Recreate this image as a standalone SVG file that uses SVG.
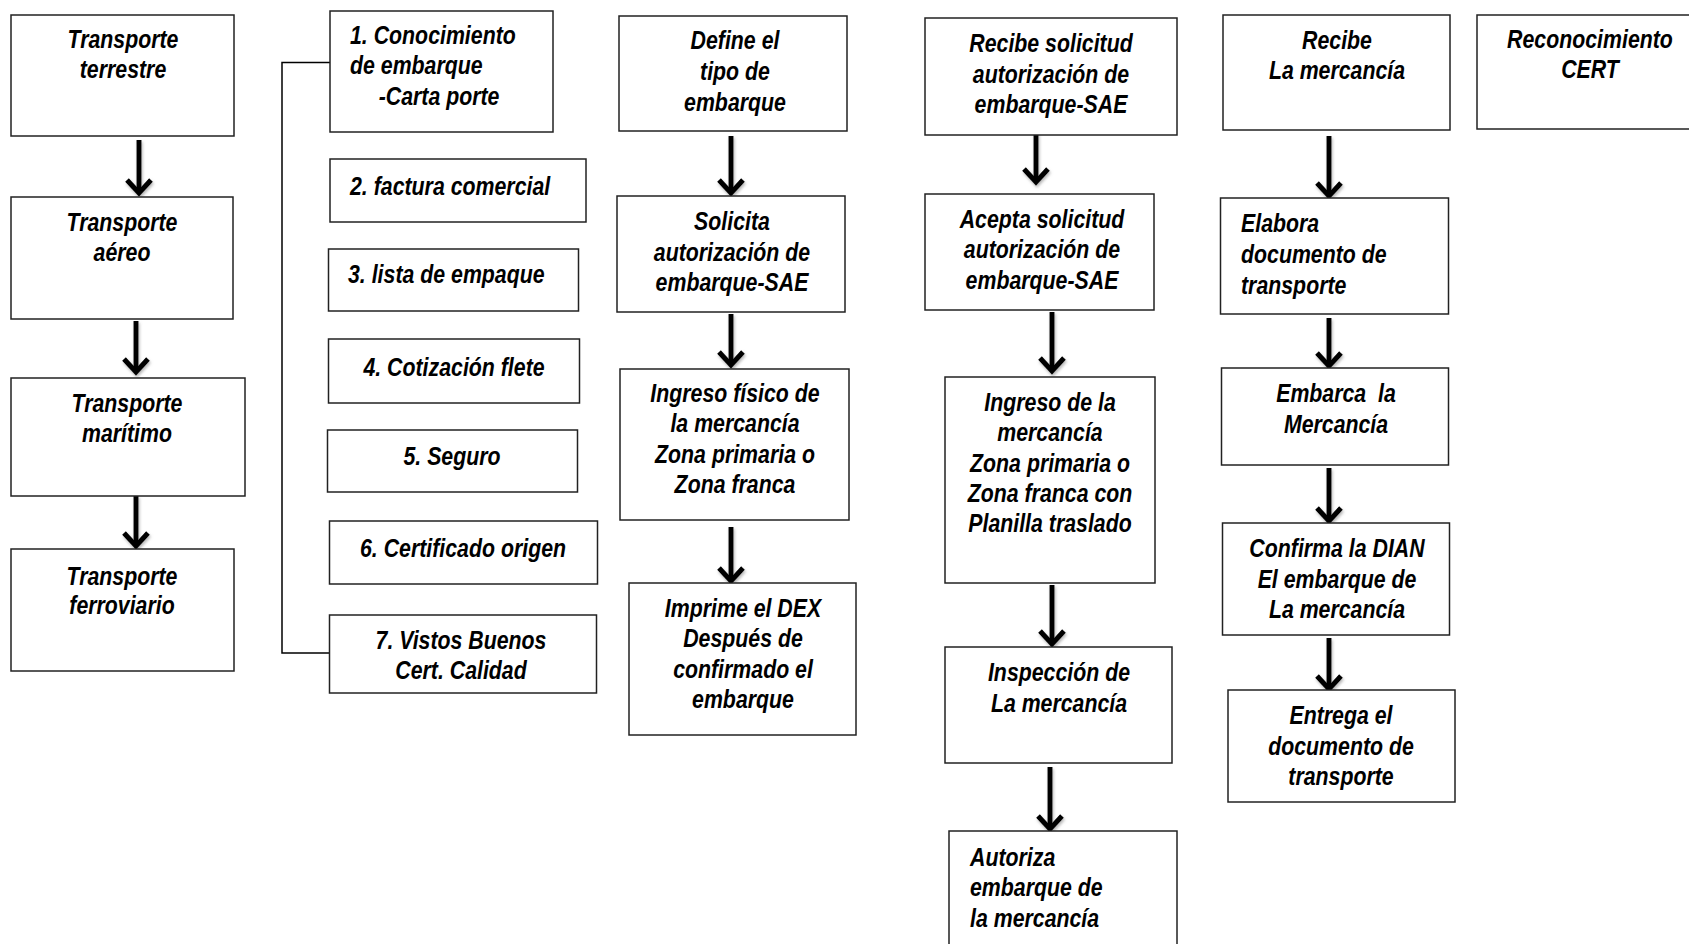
<svg xmlns="http://www.w3.org/2000/svg" width="1689" height="944" viewBox="0 0 1689 944">
<defs>
<style>
.box{fill:#fff;stroke:#222;stroke-width:1.5}
.t{font-family:"Liberation Sans",Arial,sans-serif;font-weight:bold;font-style:italic;font-size:26px;fill:#000}
.c{text-anchor:middle}
.arr{stroke:#000;stroke-width:5;fill:none;marker-end:url(#ah)}
.br{stroke:#000;stroke-width:1.5;fill:none}
</style>
<filter id="sh" filterUnits="userSpaceOnUse" x="0" y="0" width="1689" height="944">
<feDropShadow dx="1" dy="2" stdDeviation="1.5" flood-color="#777" flood-opacity="0.55"/>
</filter>
<marker id="ah" markerUnits="userSpaceOnUse" viewBox="-18 -16 22 32" refX="0" refY="0" markerWidth="22" markerHeight="32" orient="auto">
<path d="M-13,-12 L0,0 L-13,12" fill="none" stroke="#000" stroke-width="5" stroke-linejoin="miter"/>
</marker>
</defs>
<rect width="1689" height="944" fill="#fff"/>

<g id="connectors">
<path class="br" d="M330,62.5 H282 V653 H330"/>
<g filter="url(#sh)">
<line class="arr" x1="139" y1="140" x2="139" y2="193"/>
<line class="arr" x1="136" y1="321" x2="136" y2="372"/>
<line class="arr" x1="136" y1="496" x2="136" y2="546"/>
<line class="arr" x1="731" y1="136" x2="731" y2="193"/>
<line class="arr" x1="731" y1="314" x2="731" y2="365"/>
<line class="arr" x1="731" y1="527" x2="731" y2="581"/>
<line class="arr" x1="1036" y1="133" x2="1036" y2="182"/>
<line class="arr" x1="1052" y1="312" x2="1052" y2="371"/>
<line class="arr" x1="1052" y1="585" x2="1052" y2="644"/>
<line class="arr" x1="1050" y1="767" x2="1050" y2="829"/>
<line class="arr" x1="1329" y1="136" x2="1329" y2="196"/>
<line class="arr" x1="1329" y1="318" x2="1329" y2="366"/>
<line class="arr" x1="1329" y1="468" x2="1329" y2="521"/>
<line class="arr" x1="1329" y1="638" x2="1329" y2="689"/>
</g>
</g>

<g id="n-terrestre"><rect class="box" x="11" y="15" width="223" height="121"/>
<g class="t c" transform="translate(123,0) scale(0.82,1)"><text x="0" y="48">Transporte</text><text x="0" y="78">terrestre</text></g></g>
<g id="n-aereo"><rect class="box" x="11" y="197" width="222" height="122"/>
<g class="t c" transform="translate(122,0) scale(0.82,1)"><text x="0" y="231">Transporte</text><text x="0" y="261">aéreo</text></g></g>
<g id="n-maritimo"><rect class="box" x="11" y="378" width="234" height="118"/>
<g class="t c" transform="translate(127,0) scale(0.82,1)"><text x="0" y="412">Transporte</text><text x="0" y="442">marítimo</text></g></g>
<g id="n-ferroviario"><rect class="box" x="11" y="549" width="223" height="122"/>
<g class="t c" transform="translate(122,0) scale(0.82,1)"><text x="0" y="585">Transporte</text><text x="0" y="614">ferroviario</text></g></g>

<g id="d1"><rect class="box" x="330" y="11" width="223" height="121"/>
<g class="t" transform="translate(350,0) scale(0.82,1)"><text x="0" y="44">1. Conocimiento</text><text x="0" y="74">de embarque</text><text x="35" y="105">-Carta porte</text></g></g>
<g id="d2"><rect class="box" x="330" y="159" width="256" height="63"/>
<g class="t" transform="translate(350,0) scale(0.82,1)"><text x="0" y="195">2. factura comercial</text></g></g>
<g id="d3"><rect class="box" x="328.5" y="249" width="250" height="62"/>
<g class="t" transform="translate(348,0) scale(0.82,1)"><text x="0" y="283">3. lista de empaque</text></g></g>
<g id="d4"><rect class="box" x="328.5" y="339" width="251" height="64"/>
<g class="t c" transform="translate(454,0) scale(0.82,1)"><text x="0" y="376">4. Cotización flete</text></g></g>
<g id="d5"><rect class="box" x="327.5" y="430" width="250" height="62"/>
<g class="t c" transform="translate(452,0) scale(0.82,1)"><text x="0" y="465">5. Seguro</text></g></g>
<g id="d6"><rect class="box" x="329.5" y="521" width="268" height="63"/>
<g class="t c" transform="translate(463,0) scale(0.82,1)"><text x="0" y="557">6. Certificado origen</text></g></g>
<g id="d7"><rect class="box" x="329.5" y="615" width="267" height="78"/>
<g class="t c" transform="translate(461,0) scale(0.82,1)"><text x="0" y="649">7. Vistos Buenos</text><text x="0" y="679">Cert. Calidad</text></g></g>

<g id="c3-1"><rect class="box" x="619" y="16" width="228" height="115"/>
<g class="t c" transform="translate(735,0) scale(0.82,1)"><text x="0" y="49">Define el</text><text x="0" y="80">tipo de</text><text x="0" y="111">embarque</text></g></g>
<g id="c3-2"><rect class="box" x="617" y="196" width="228" height="116"/>
<g class="t c" transform="translate(732,0) scale(0.82,1)"><text x="0" y="230">Solicita</text><text x="0" y="261">autorización de</text><text x="0" y="291">embarque-SAE</text></g></g>
<g id="c3-3"><rect class="box" x="620" y="369" width="229" height="151"/>
<g class="t c" transform="translate(735,0) scale(0.82,1)"><text x="0" y="402">Ingreso físico de</text><text x="0" y="432">la mercancía</text><text x="0" y="463">Zona primaria o</text><text x="0" y="493">Zona franca</text></g></g>
<g id="c3-4"><rect class="box" x="629" y="583" width="227" height="152"/>
<g class="t c" transform="translate(743,0) scale(0.82,1)"><text x="0" y="617">Imprime el DEX</text><text x="0" y="647">Después de</text><text x="0" y="678">confirmado el</text><text x="0" y="708">embarque</text></g></g>

<g id="c4-1"><rect class="box" x="925" y="18" width="252" height="117"/>
<g class="t c" transform="translate(1051,0) scale(0.82,1)"><text x="0" y="52">Recibe solicitud</text><text x="0" y="83">autorización de</text><text x="0" y="113">embarque-SAE</text></g></g>
<g id="c4-2"><rect class="box" x="925" y="194" width="229" height="116"/>
<g class="t c" transform="translate(1042,0) scale(0.82,1)"><text x="0" y="228">Acepta solicitud</text><text x="0" y="258">autorización de</text><text x="0" y="289">embarque-SAE</text></g></g>
<g id="c4-3"><rect class="box" x="945" y="377" width="210" height="206"/>
<g class="t c" transform="translate(1050,0) scale(0.82,1)"><text x="0" y="411">Ingreso de la</text><text x="0" y="441">mercancía</text><text x="0" y="472">Zona primaria o</text><text x="0" y="502">Zona franca con</text><text x="0" y="532">Planilla traslado</text></g></g>
<g id="c4-4"><rect class="box" x="945" y="647" width="227" height="116"/>
<g class="t c" transform="translate(1059,0) scale(0.82,1)"><text x="0" y="681">Inspección de</text><text x="0" y="712">La mercancía</text></g></g>
<g id="c4-5"><rect class="box" x="949" y="831" width="228" height="125"/>
<g class="t" transform="translate(970,0) scale(0.82,1)"><text x="0" y="866">Autoriza</text><text x="0" y="896">embarque de</text><text x="0" y="927">la mercancía</text></g></g>

<g id="c5-1"><rect class="box" x="1223" y="15" width="227" height="115"/>
<g class="t c" transform="translate(1337,0) scale(0.82,1)"><text x="0" y="49">Recibe</text><text x="0" y="79">La mercancía</text></g></g>
<g id="c5-2"><rect class="box" x="1220.5" y="198" width="228" height="116"/>
<g class="t" transform="translate(1241,0) scale(0.82,1)"><text x="0" y="232">Elabora</text><text x="0" y="263">documento de</text><text x="0" y="294">transporte</text></g></g>
<g id="c5-3"><rect class="box" x="1221.5" y="368" width="227" height="97"/>
<g class="t c" transform="translate(1336,0) scale(0.82,1)"><text x="0" y="402" xml:space="preserve">Embarca  la</text><text x="0" y="433">Mercancía</text></g></g>
<g id="c5-4"><rect class="box" x="1222.5" y="523" width="227" height="112"/>
<g class="t c" transform="translate(1337,0) scale(0.82,1)"><text x="0" y="557">Confirma la DIAN</text><text x="0" y="588">El embarque de</text><text x="0" y="618">La mercancía</text></g></g>
<g id="c5-5"><rect class="box" x="1228" y="690" width="227" height="112"/>
<g class="t c" transform="translate(1341,0) scale(0.82,1)"><text x="0" y="724">Entrega el</text><text x="0" y="755">documento de</text><text x="0" y="785">transporte</text></g></g>

<g id="c6-1"><rect class="box" x="1477" y="15" width="230" height="114"/>
<g class="t c" transform="translate(1590,0) scale(0.82,1)"><text x="0" y="48">Reconocimiento</text><text x="0" y="78">CERT</text></g></g>
</svg>
